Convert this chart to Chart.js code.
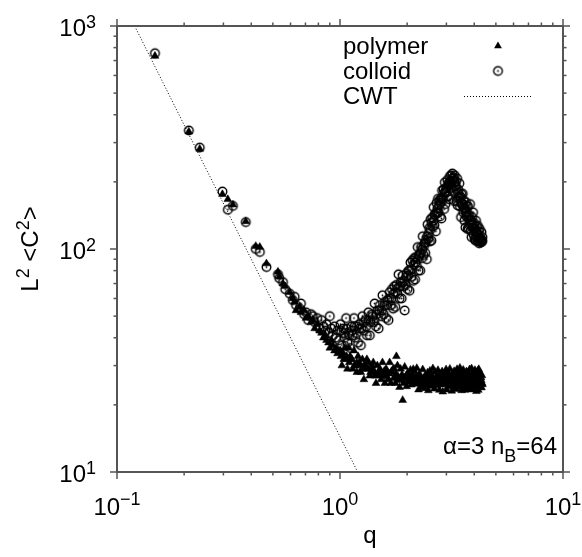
<!DOCTYPE html>
<html>
<head>
<meta charset="utf-8">
<script src="https://cdn.jsdelivr.net/npm/chart.js@4/dist/chart.umd.min.js"></script>
<style>
html, body { margin: 0; padding: 0; background: #fff; }
canvas { display: block; }
</style>
</head>
<body>
<canvas id="chart" width="582" height="557"></canvas>
<script>
// Wave vectors q and the measured L^2 <C^2> for the two species
const qValues = [
  0.148, 0.210, 0.235, 0.297, 0.314, 0.331, 0.378, 0.419, 0.437, 0.468,
  0.527, 0.534, 0.555, 0.568, 0.595, 0.614, 0.626, 0.635, 0.660, 0.668,
  0.690, 0.704, 0.720, 0.742, 0.755, 0.770, 0.790, 0.810, 0.826, 0.842,
  0.860, 0.870, 0.888, 0.900, 0.915, 0.928, 0.945, 0.960, 0.975, 0.990,
  1.005, 1.020, 1.035, 1.050, 1.065, 1.080, 1.095, 1.110, 1.125, 1.140,
  1.155, 1.170, 1.190, 1.205, 1.220, 1.240, 1.260, 1.280, 1.300, 1.320,
  1.340, 1.360, 1.390, 1.410, 1.430, 1.450, 1.470, 1.490, 1.510, 1.530,
  1.550, 1.570, 1.590, 1.610, 1.630, 1.650, 1.670, 1.690, 1.710, 1.730,
  1.750, 1.770, 1.790, 1.810, 1.830, 1.850, 1.870, 1.890, 1.910, 1.930,
  1.950, 1.970, 1.990, 2.010, 2.030, 2.050, 2.070, 2.090, 2.110, 2.130,
  2.150, 2.170, 2.190, 2.210, 2.230, 2.250, 2.270, 2.290, 2.310, 2.330,
  2.350, 2.370, 2.390, 2.410, 2.430, 2.450, 2.470, 2.490, 2.510, 2.530,
  2.550, 2.570, 2.590, 2.610, 2.630, 2.650, 2.670, 2.690, 2.710, 2.730,
  2.750, 2.770, 2.790, 2.810, 2.830, 2.850, 2.870, 2.890, 2.910, 2.930,
  2.950, 2.970, 2.990, 3.010, 3.030, 3.050, 3.070, 3.090, 3.110, 3.130,
  3.150, 3.170, 3.190, 3.210, 3.230, 3.250, 3.270, 3.290, 3.310, 3.330,
  3.350, 3.370, 3.390, 3.410, 3.430, 3.450, 3.470, 3.490, 3.510, 3.530,
  3.550, 3.570, 3.590, 3.610, 3.630, 3.650, 3.670, 3.690, 3.710, 3.730,
  3.750, 3.770, 3.790, 3.810, 3.830, 3.850, 3.870, 3.890, 3.910, 3.930,
  3.950, 3.970, 3.990, 4.010, 4.030, 4.050, 4.070, 4.090, 4.110, 4.130,
  4.150, 4.170, 4.190, 4.210, 4.230, 4.250, 4.270, 4.290, 4.310, 4.330,
  4.350
];

const polymerValues = [
  733, 336, 281, 176, 167, 158, 133, 103, 102, 86,
  79, 75, 70, 68, 64, 60, 58, 53, 55, 52,
  53, 49, 50, 47, 48, 44, 46, 43, 42, 40,
  41, 39, 38, 36, 39, 37, 35, 36, 34, 35,
  35, 30, 34, 36, 32, 29, 36, 33, 32, 29,
  35, 30, 28, 33, 31, 28, 32, 26, 30, 32,
  31, 27, 30, 31, 27, 25, 30, 28, 29, 26,
  31, 27, 25, 29, 28, 26, 31, 25, 28, 29,
  29, 25, 33, 30, 26, 24, 29, 27, 21, 25,
  29.6, 26.4, 24.2, 27.8, 26.9, 25.3, 28.7, 24.6, 27.4, 28.9,
  28.3, 25.1, 26.7, 29.2, 24.8, 23.4, 27.6, 25.9, 26.3, 24.1,
  28.8, 25.6, 23.7, 27.1, 26.2, 24.4, 27.9, 23.2, 26.6, 28.4,
  27.7, 24.3, 26.8, 29.1, 25.2, 23.6, 28.1, 25.7, 26.9, 24.5,
  28.6, 25.4, 23.3, 27.2, 26.1, 24.7, 28.2, 22.9, 26.5, 27.6,
  25.1, 27.9, 28.8, 23.4, 26.7, 24.2, 27.5, 25.8, 29.0, 24.6,
  26.8, 23.1, 27.7, 25.9, 24.9, 28.3, 24.1, 26.6, 23.5, 27.3,
  28.9, 25.3, 27.8, 24.4, 26.2, 29.3, 24.0, 26.9, 23.2, 28.1,
  25.7, 28.7, 24.3, 27.0, 23.3, 27.6, 25.5, 28.2, 24.8, 23.6,
  27.9, 26.6, 24.1, 28.8, 25.2, 26.9, 23.4, 29.1, 24.5, 25.9,
  28.0, 24.2, 26.8, 25.0, 28.6, 23.8, 27.3, 23.0, 27.7, 24.9,
  28.4, 23.3, 28.9, 25.7, 24.6, 27.8, 24.0, 26.5, 23.9, 27.1,
  24.7
];

const colloidValues = [
  755, 340, 285, 181, 150, 156, 132, 100, 97, 83,
  77, 74, 71, 66, 63, 59, 61, 56, 54, 57,
  51, 52, 48, 51, 50, 47, 49, 44, 48, 45,
  43, 46, 42, 50, 44, 41, 45, 40, 43, 39,
  46, 37, 44, 40, 49, 38, 42, 36, 45, 41,
  49, 40, 45, 38, 44, 37, 50, 43, 48, 41,
  52, 41, 51, 47, 57, 45, 53, 44, 56, 50,
  62, 51, 58, 49, 59, 48, 64, 56, 66, 54,
  68, 55, 69, 63, 77, 60, 71, 60, 76, 68,
  53, 69, 78, 66, 80, 65, 87, 75, 89, 72,
  91, 73, 92, 84, 102, 80, 95, 80, 102, 91,
  114, 94, 106, 96, 110, 90, 129, 111, 124, 108,
  136, 109, 138, 126, 154, 128, 142, 120, 161, 145,
  168, 146, 165, 140, 168, 137, 183, 166, 185, 151,
  199, 159, 188, 180, 204, 172, 198, 167, 212, 196,
  214, 188, 218, 182, 209, 164, 214, 190, 201, 164,
  207, 157, 185, 169, 197, 155, 172, 139, 176, 158,
  177, 146, 165, 134, 154, 125, 162, 140, 156, 123,
  155, 124, 142, 130, 159, 121, 134, 113, 139, 125,
  146, 116, 131, 111, 123, 109, 134, 113, 126, 109,
  127, 108, 120, 106, 123, 108, 111, 107, 119, 108,
  113
];

// Further modes at large q, where the shells hold many more wave vectors
const qValuesB = [
  1.01, 1.04, 1.07, 1.10, 1.13, 1.16, 1.19, 1.22, 1.25, 1.28,
  1.31, 1.34, 1.37, 1.40, 1.43, 1.46,
  1.50, 1.54, 1.58, 1.62, 1.66, 1.70, 1.74, 1.78, 1.82, 1.86,
  1.90, 1.94, 1.98, 2.02, 2.06, 2.10, 2.14, 2.18, 2.22, 2.26,
  2.30, 2.34, 2.38, 2.42, 2.46, 2.50, 2.54, 2.58, 2.62, 2.66,
  2.70, 2.74, 2.78, 2.82, 2.86, 2.90, 2.94, 2.98, 3.02, 3.06,
  3.10, 3.14, 3.18, 3.22, 3.26, 3.30, 3.34, 3.38, 3.42, 3.46,
  3.50, 3.54, 3.58, 3.62, 3.66, 3.70, 3.74, 3.78, 3.82, 3.86,
  3.90, 3.94, 3.98, 4.02, 4.06, 4.10, 4.14, 4.18, 4.22, 4.26,
  4.30, 4.34
];

const polymerValuesB = [
  33, 32, 33, 31, 32, 30, 31, 30, 29, 30,
  29, 29, 28, 29, 28, 27,
  28, 27.3, 28.4, 26.8, 27.6, 28.2, 26.3, 27.4, 26.9, 25.8,
  27.2, 26.4, 26.9, 25.7, 26.2, 27.1, 25.9, 25.2, 26.4, 26.9,
  25.6, 24.9, 26.3, 25.8, 25.1, 26.7, 25.5, 24.8, 26.1, 25.4,
  24.6, 26.5, 25.9, 25.0, 25.7, 26.3, 24.7, 26.8, 25.3, 24.9,
  26.0, 25.6, 24.5, 26.6, 25.2, 24.8, 25.9, 26.2, 24.6, 26.9,
  25.4, 24.7, 26.1, 25.5, 24.9, 26.7, 25.8, 24.5, 25.6, 26.3,
  24.8, 26.6, 25.3, 24.6, 25.9, 26.4, 24.9, 26.8, 25.5, 24.7,
  25.8, 25.0
];

const colloidValuesB = [
  43, 42, 44, 41, 43, 45, 42, 46, 44, 47,
  45, 48, 47, 50, 48, 51,
  53, 53, 56, 56, 60, 60, 63, 64, 67, 68,
  71, 72, 75, 76, 80, 81, 85, 87, 90, 93,
  96, 100, 103, 107, 114, 117, 122, 131, 134, 143,
  146, 152, 157, 161, 168, 171, 179, 182, 190, 192,
  199, 201, 207, 203, 200, 192, 184, 179, 171, 169,
  161, 160, 154, 152, 146, 147, 140, 139, 134, 134,
  129, 129, 124, 123, 120, 119, 116, 116, 112, 112,
  110, 109
];

// Capillary-wave theory power law, q^-2 (end points of the straight line)
const cwtQ = [0.12, 1.2];
const cwtValues = [1000, 10];

// Axis decades and their exponent labels
const xDecades = [0.1, 1, 10];
const xExponents = ['\u22121', '0', '1'];
const yDecades = [10, 100, 1000];
const yExponents = ['1', '2', '3'];
const minorSteps = [2, 3, 4, 5, 6, 7, 8, 9];

const legendLabels = ['polymer', 'colloid', 'CWT'];

const FONT = "'Liberation Sans', Arial, Helvetica, sans-serif";
const AXIS_COLOR = '#555';

// Open circle with a centre dot, used for the colloid points
function makeDotCircle() {
  const c = document.createElement('canvas');
  c.width = 13; c.height = 13;
  const g = c.getContext('2d');
  g.strokeStyle = '#000';
  g.lineWidth = 1.4;
  g.beginPath();
  g.arc(6.5, 6.5, 4.3, 0, Math.PI * 2);
  g.stroke();
  g.fillStyle = '#000';
  g.beginPath();
  g.arc(6.5, 6.5, 0.9, 0, Math.PI * 2);
  g.fill();
  return c;
}
const dotCircle = makeDotCircle();

const toPoints = (qs, ys) => qs.map((q, i) => ({ x: q, y: ys[i] }));
const polymerPoints = toPoints(qValues, polymerValues).concat(toPoints(qValuesB, polymerValuesB));
const colloidPoints = toPoints(qValues, colloidValues).concat(toPoints(qValuesB, colloidValuesB));
const cwtPoints = toPoints(cwtQ, cwtValues);

function powerText(ctx, base, exp, x, y, align, size, supSize, raise) {
  ctx.font = size + 'px ' + FONT;
  const w1 = ctx.measureText(base).width;
  ctx.font = supSize + 'px ' + FONT;
  const w2 = ctx.measureText(exp).width;
  let x0 = x;
  if (align === 'right') x0 = x - w1 - w2;
  else if (align === 'center') x0 = x - (w1 + w2) / 2;
  ctx.textAlign = 'left';
  ctx.textBaseline = 'alphabetic';
  ctx.font = size + 'px ' + FONT;
  ctx.fillText(base, x0, y);
  ctx.font = supSize + 'px ' + FONT;
  ctx.fillText(exp, x0 + w1, y - raise);
}

// Draw a run of text pieces, each with its own size and vertical shift
function runText(ctx, pieces, x, y, align) {
  let total = 0;
  pieces.forEach(p => { ctx.font = p.size + 'px ' + FONT; p.w = ctx.measureText(p.t).width; total += p.w; });
  let cx = align === 'right' ? x - total : align === 'center' ? x - total / 2 : x;
  ctx.textAlign = 'left';
  ctx.textBaseline = 'alphabetic';
  pieces.forEach(p => {
    ctx.font = p.size + 'px ' + FONT;
    ctx.fillText(p.t, cx, y + (p.dy || 0));
    cx += p.w;
  });
}

const framePlugin = {
  id: 'frame',
  afterDraw(chart) {
    const ctx = chart.ctx;
    const a = chart.chartArea;
    const xs = chart.scales.x, ys = chart.scales.y;
    ctx.save();

    // box
    ctx.strokeStyle = AXIS_COLOR;
    ctx.lineWidth = 2;
    ctx.strokeRect(a.left, a.top, a.right - a.left, a.bottom - a.top);

    // ticks, pointing outwards on all four sides
    ctx.lineWidth = 1.5;
    const tick = (x1, y1, x2, y2) => { ctx.beginPath(); ctx.moveTo(x1, y1); ctx.lineTo(x2, y2); ctx.stroke(); };
    const xTicks = [], yTicks = [];
    xDecades.forEach((d, i) => {
      xTicks.push({ v: d, major: true });
      if (i < xDecades.length - 1) minorSteps.forEach(m => xTicks.push({ v: d * m, major: false }));
    });
    yDecades.forEach((d, i) => {
      yTicks.push({ v: d, major: true });
      if (i < yDecades.length - 1) minorSteps.forEach(m => yTicks.push({ v: d * m, major: false }));
    });
    xTicks.forEach(t => {
      const px = xs.getPixelForValue(t.v);
      const len = t.major ? 7 : 3.5;
      tick(px, a.bottom, px, a.bottom + len);
      tick(px, a.top, px, a.top - len);
    });
    yTicks.forEach(t => {
      const py = ys.getPixelForValue(t.v);
      const len = t.major ? 7 : 3.5;
      tick(a.left, py, a.left - len, py);
      tick(a.right, py, a.right + len, py);
    });

    // tick labels
    ctx.fillStyle = '#000';
    xDecades.forEach((d, i) => {
      powerText(ctx, '10', xExponents[i], xs.getPixelForValue(d), a.bottom + 43, 'center', 24, 18, 10);
    });
    yDecades.forEach((d, i) => {
      powerText(ctx, '10', yExponents[i], 96, ys.getPixelForValue(d) + 10, 'right', 24, 18, 8);
    });

    // axis titles
    runText(ctx, [{ t: 'q', size: 24 }], 370, 543, 'center');
    ctx.save();
    ctx.translate(38, (a.top + a.bottom) / 2);
    ctx.rotate(-Math.PI / 2);
    runText(ctx, [
      { t: 'L', size: 24 }, { t: '2', size: 18, dy: -9 },
      { t: ' <C', size: 24 }, { t: '2', size: 18, dy: -9 },
      { t: '>', size: 24 }
    ], 0, 0, 'center');
    ctx.restore();

    // key
    ctx.font = '24px ' + FONT;
    legendLabels.forEach((lab, i) => {
      ctx.textAlign = 'left';
      ctx.textBaseline = 'alphabetic';
      ctx.fillText(lab, 343, 54 + i * 25);
    });
    const sx = 498;
    ctx.fillStyle = '#000';
    const r = 4.5;
    ctx.beginPath();
    ctx.moveTo(sx, 46 - r);
    ctx.lineTo(sx + r * Math.sin(2 * Math.PI / 3), 46 - r * Math.cos(2 * Math.PI / 3));
    ctx.lineTo(sx + r * Math.sin(4 * Math.PI / 3), 46 - r * Math.cos(4 * Math.PI / 3));
    ctx.closePath();
    ctx.fill();
    ctx.drawImage(dotCircle, sx - 6.5, 71 - 6.5);
    ctx.strokeStyle = '#000';
    ctx.lineWidth = 1;
    ctx.setLineDash([1, 2]);
    ctx.beginPath();
    ctx.moveTo(464, 96.5);
    ctx.lineTo(532, 96.5);
    ctx.stroke();
    ctx.setLineDash([]);

    // parameters
    runText(ctx, [
      { t: '\u03b1=3 n', size: 24 },
      { t: 'B', size: 18, dy: 8 },
      { t: '=64', size: 24 }
    ], 557, 454, 'right');

    ctx.restore();
  }
};

new Chart(document.getElementById('chart'), {
  type: 'scatter',
  data: {
    datasets: [
      {
        label: 'colloid',
        data: colloidPoints,
        pointStyle: dotCircle,
        pointRadius: 4.5,
        showLine: false
      },
      {
        label: 'polymer',
        data: polymerPoints,
        pointStyle: 'triangle',
        pointRadius: 4.5,
        backgroundColor: '#000',
        borderColor: '#000',
        borderWidth: 0.5,
        showLine: false
      },
      {
        label: 'CWT',
        data: cwtPoints,
        showLine: true,
        pointRadius: 0,
        borderColor: '#000',
        borderWidth: 1,
        borderDash: [1, 2],
        fill: false
      }
    ]
  },
  options: {
    responsive: false,
    animation: false,
    devicePixelRatio: 1,
    layout: { padding: { left: 117, right: 19, top: 26, bottom: 85 } },
    plugins: { legend: { display: false }, tooltip: { enabled: false } },
    scales: {
      x: { type: 'logarithmic', min: 0.1, max: 10, display: false },
      y: { type: 'logarithmic', min: 10, max: 1000, display: false }
    }
  },
  plugins: [framePlugin]
});
</script>
</body>
</html>
